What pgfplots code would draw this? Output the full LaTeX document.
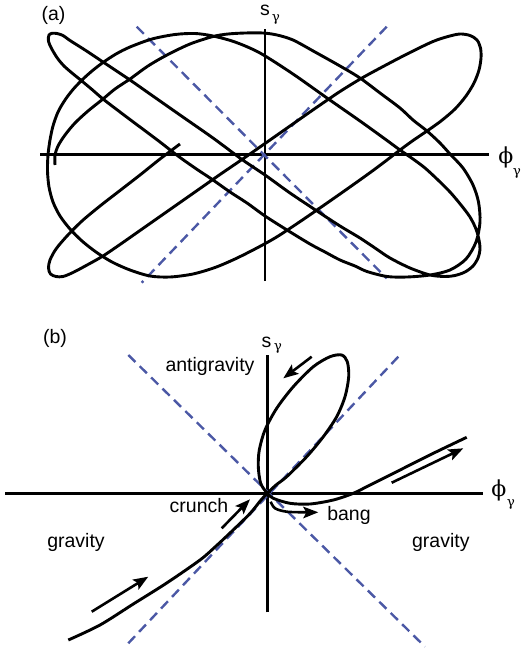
\documentclass[border=0pt]{standalone}
\usepackage{fontspec}
\setmainfont{Liberation Sans}
\newfontfamily\grk{DejaVu Serif}
\usepackage{pgfplots}
\pgfplotsset{compat=1.18}
\usetikzlibrary{arrows.meta}

\definecolor{dashblue}{RGB}{75,88,165}

\pgfplotsset{
  panel/.style={
    x=1pt, y=1pt, anchor=origin,
    axis lines=middle,
    axis line style={-, line width=2.6pt},
    every inner x axis line/.append style={-},
    every inner y axis line/.append style={-},
    xtick=\empty, ytick=\empty,
    clip=false,
  },
  curve/.style={black, line width=2.9pt, smooth, no marks},
  diag/.style={dashblue, line width=2.4pt, dash pattern=on 10pt off 6pt, no marks},
  arr/.style={black, line width=2.6pt, no marks, -{Stealth[length=15pt,width=11.5pt,inset=3pt]}},
}
\tikzset{
  lbl/.style={font=\fontsize{19.5}{21}\selectfont, inner sep=0pt},
  phi/.style={font=\fontsize{22}{23}\selectfont\grk, inner sep=0pt},
  sub/.style={font=\fontsize{13.5}{14}\selectfont\grk, inner sep=0pt},
}

\begin{document}
\begin{tikzpicture}
\useasboundingbox (0,0) rectangle (520pt,-653pt);

% (a): values read in image pixels, shifted to the panel origin by the filters
\begin{axis}[panel, at={(265pt,-154.5pt)},
  xmin=-225, xmax=224, ymin=-126.5, ymax=125.5,
  x filter/.expression={x-265}, y filter/.expression={154.5-y}]
\addplot[diag] coordinates {(136.7,26.7) (386.7,278.3)};
\addplot[diag] coordinates {(386.7,26.7) (141.7,282.7)};
\addplot[curve] coordinates {
(180,144) (160,159) (140,175) (120,190.5) (100,206) (82,221) (67,236) (56,249)
(50,260) (48.5,268) (50.5,274) (56,276.5) (63,276.5) (73,272.5)
(88,264.5) (103,256) (120,244.5) (140,230.5) (160,216.5) (180,202.5) (200,188.5)
(220,174.5) (242,159.5) (265,143.5) (290,126) (315,108.5) (340,91.5) (362,78)
(385,65.5) (410,52.5) (433,41.5) (448,36.5) (460,34) (470,35.5) (477,40)
(480.5,48) (481,58) (479,70) (474,83) (466,96) (455,109) (441,121) (427,131)
(413,140.5) (400,150) (387,160) (373,170.5) (357,182) (340,194) (317,210)
(295,225) (275,238) (255,249) (235,259) (215,267.5) (193,274) (170,277) (150,276)
(130,270) (112,262) (96,252) (82,241) (70,229) (60,216) (53,202) (49,187)
(47.5,171) (48,155) (50,140) (53,126) (58,112) (65,100) (73,89.5) (82,80) (92,71)
(103,62.5) (116,54) (130,47) (152,39) (175,34.5) (195,33.5) (213,36) (235,42)
(260,53) (293,74) (327,98) (360,121) (385,139) (400,150) (413,159) (425,168)
(438,180) (450,192) (461,205) (470,217) (476,229) (479,240) (480,249) (478,258)
(473,266) (465,272) (455,275.5) (445,276.5) (430,275) (410,268) (390,258)
(375,248) (360,238) (340,226) (317,211) (290,193) (265,175) (242,159.5) (213,138)
(180,115) (150,94) (130,80) (103,62) (85,50) (70,40.5) (63,35.5) (57,33.5)
(52,33.3) (49,35) (48.3,38) (48.7,42) (50.5,46.5) (53.5,52) (58,59) (64,66)
(72,73) (80,79.5) (92,89.5) (103,99) (120,112) (140,127) (160,142) (178,156)
(195,168) (213,180) (230,192) (247,203) (265,216) (287,230) (310,244) (325,252)
(340,260) (355,266) (367,271.5) (387,276.5) (407,277) (430,275) (450,270)
(466,259) (476,242) (480,222) (478.5,202) (473,185) (463,168) (450,154) (440,143)
(427,131) (413,120) (400,108) (380,93) (360,78) (340,66) (315,52) (293,40)
(277,35) (263,33) (245,33) (228,34) (213,36.5) (190,44) (167,55) (148,66)
(130,79) (115,89) (103,99) (88,111) (75,123) (65,135) (58,146) (55,155) (55,165)};
\node[lbl] at (axis cs:-211.5,139.5) {(a)};
\node[lbl] at (axis cs:0,143.7) {s};
\node[sub] at (axis cs:10.8,135.3) {γ};
\node[phi] at (axis cs:240.8,-3) {ϕ};
\node[sub] at (axis cs:252,-18.5) {γ};
\end{axis}

% (b)
\begin{axis}[panel, at={(267.3pt,-493.3pt)},
  xmin=-262, xmax=216, ymin=-119, ymax=138,
  x filter/.expression={x-267.3}, y filter/.expression={493.3-y}]
\addplot[diag] coordinates {(128.3,355) (425,646.7)};
\addplot[diag] coordinates {(398.3,356.7) (128.3,643.3)};
\addplot[curve] coordinates {
(68.3,640) (100,625) (133.3,604) (166.7,583) (200,560) (215,547) (230,533)
(250,513.5) (261,500) (267.3,493.3) (276,485) (286.7,476.7) (306.7,456.7)
(323.3,436.7) (336.7,416.7) (345,396.7) (348.7,376.7) (347.3,361.7) (341.7,355)
(330,356.7) (313.3,366.7) (293.3,386.7) (276.7,408.3) (265,430) (259.3,450)
(258.3,466.7) (260.7,483.3) (267.3,493.3) (273.3,498.3) (290,503.3) (310,504)
(333.3,500) (353.3,493.3) (370,485) (400,470) (433.3,453.3) (466.7,437.3)};
\addplot[arr] coordinates {(91.7,611.7) (148.3,576.7)};
\addplot[arr] coordinates {(221.7,528.3) (250,499.3)};
\addplot[arr] coordinates {(311.7,356.7) (283.3,378.3)};
\addplot[arr] coordinates {(391.7,482.7) (463.3,448.3)};
\addplot[arr, smooth] coordinates {(270.7,501.7) (275,508.3) (286.7,511.7) (306.7,512.3) (318.3,512.3)};
\node[lbl] at (axis cs:-212.3,155) {(b)};
\node[lbl] at (axis cs:-0.8,151.3) {s};
\node[sub] at (axis cs:10.7,145.3) {γ};
\node[phi] at (axis cs:231.5,3.3) {ϕ};
\node[sub] at (axis cs:243.5,-10.9) {γ};
\node[lbl] at (axis cs:-57.3,126.8) {antigravity};
\node[lbl] at (axis cs:-68.3,-12.2) {crunch};
\node[lbl] at (axis cs:81.7,-22) {bang};
\node[lbl] at (axis cs:-191.3,-49.2) {gravity};
\node[lbl] at (axis cs:173.5,-49.2) {gravity};
\end{axis}
\end{tikzpicture}
\end{document}
